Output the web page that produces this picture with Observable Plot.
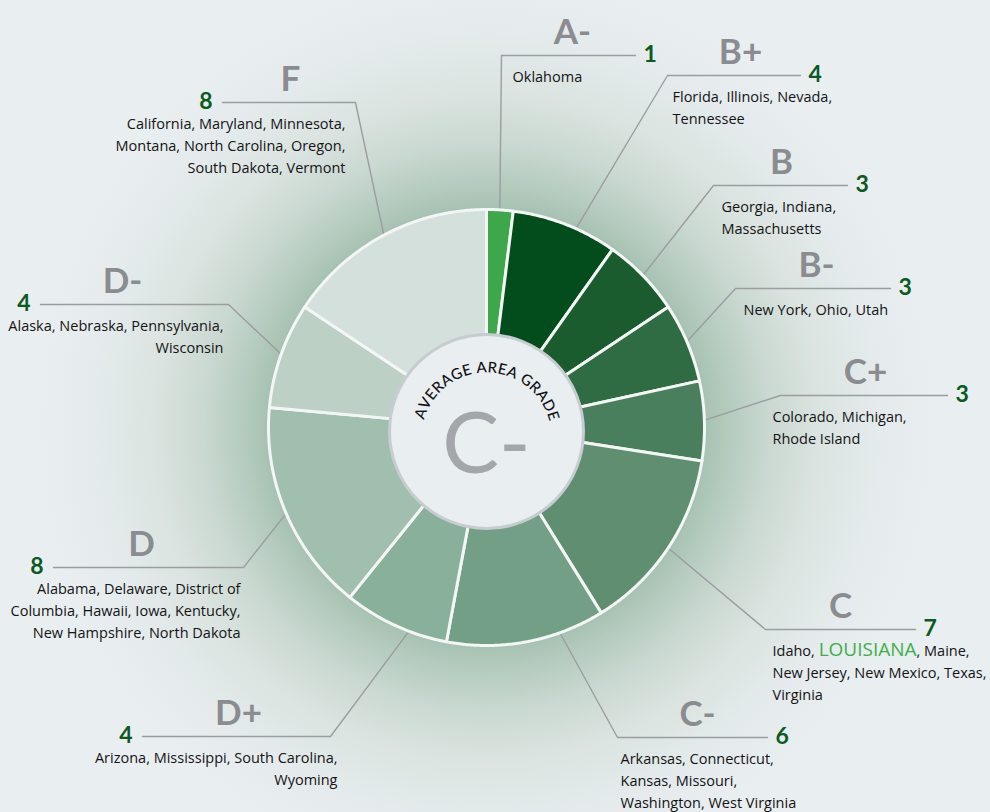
<!DOCTYPE html>
<html><head><meta charset="utf-8">
<script src="https://cdn.jsdelivr.net/npm/d3@7"></script>
<script src="https://cdn.jsdelivr.net/npm/@observablehq/plot@0.6"></script>
<style>
html,body{margin:0;padding:0;background:#e9eef0;}
#chart{width:990px;height:812px;background:radial-gradient(circle at 486px 427px,#9cb9a8 0px,#a6c1b2 218px,#b3cabd 240px,#c9d8d0 282px,#dbe4e1 335px,#e5ebec 395px,#e9eef0 450px);}
svg{display:block;}
</style></head><body><div id="chart"></div>
<script>
// ---------- data ----------
const grades = ["A-","B+","B","B-","C+","C","C-","D+","D","D-","F"];
const counts = [1,4,3,3,3,7,6,4,8,4,8];
const stateLines = [
  ["Oklahoma"],
  ["Florida, Illinois, Nevada,","Tennessee"],
  ["Georgia, Indiana,","Massachusetts"],
  ["New York, Ohio, Utah"],
  ["Colorado, Michigan,","Rhode Island"],
  ["Idaho, LOUISIANA, Maine,","New Jersey, New Mexico, Texas,","Virginia"],
  ["Arkansas, Connecticut,","Kansas, Missouri,","Washington, West Virginia"],
  ["Arizona, Mississippi, South Carolina,","Wyoming"],
  ["Alabama, Delaware, District of","Columbia, Hawaii, Iowa, Kentucky,","New Hampshire, North Dakota"],
  ["Alaska, Nebraska, Pennsylvania,","Wisconsin"],
  ["California, Maryland, Minnesota,","Montana, North Carolina, Oregon,","South Dakota, Vermont"]
];
const averageGrade = "C-";
const centerTitle = "AVERAGE AREA GRADE";
const highlightState = "LOUISIANA";

// ---------- styles ----------
const sliceColors = ["#3ea64b","#024d1b","#1b5c2f","#2f6c44","#4a7f5d","#5f8f70","#739f86","#88b09b","#a1bfae","#bdd0c6","#d3e0db"];

// ---------- annotation layout (pixel space) ----------
const labelSide   = ["R","R","R","R","R","R","R","L","L","L","L"];
const elbowX      = [501,667,713,735,780,765,617,330,243,228,355];
const elbowY      = [55,75,185,288,395,629,737,736,567,304,102];
const lineEndX    = [635,800,847,890,947,915,767,142,53,40,222];
const statesX     = [512,672,721,743,772,772,620,337,240,223,345];
const letterX     = [572,740,781,816,865,840,697,238,141,122,290];
const leaderShift = [0,3,0,0,0,0,-9,-4,0,0,0];

const W = 990, H = 812, CX = 486, CY = 427, R_OUT = 218, R_IN = 88;

const rows = grades.map((g,i)=>({
  grade:g, count:counts[i], states:stateLines[i].join("\n"), color:sliceColors[i],
  side:labelSide[i], ex:elbowX[i], ey:elbowY[i], fx:lineEndX[i], sx:statesX[i], lx:letterX[i], shift:leaderShift[i]
}));

const arcs = d3.pie().value(d=>d.count).sort(null)(rows);
const rad = Math.PI/180;

const slicePts = arcs.flatMap(p=>{
  const a0=p.startAngle, a1=p.endAngle, n=Math.max(2,Math.ceil((a1-a0)/(0.5*rad)));
  const pts=[];
  for(let i=0;i<=n;i++){const a=a0+(a1-a0)*i/n; pts.push({grade:p.data.grade,color:p.data.color,x:CX+R_OUT*Math.sin(a),y:CY-R_OUT*Math.cos(a)});}
  for(let i=n;i>=0;i--){const a=a0+(a1-a0)*i/n; pts.push({grade:p.data.grade,color:p.data.color,x:CX+R_IN*Math.sin(a),y:CY-R_IN*Math.cos(a)});}
  return pts;
});

const leaderPts = arcs.flatMap(p=>{
  const d=p.data, a=(p.startAngle+p.endAngle)/2 + d.shift*rad, r=R_OUT-2;
  return [
    {grade:d.grade,x:CX+r*Math.sin(a),y:CY-r*Math.cos(a)},
    {grade:d.grade,x:d.ex,y:d.ey},
    {grade:d.grade,x:d.fx,y:d.ey}
  ];
});

// curved centre title: characters spread so first/last centres sit at about ±71°
const ctx = document.createElement("canvas").getContext("2d");
const titleFont = {size:15, weight:500, family:"Lato"};
ctx.font = `${titleFont.weight} ${titleFont.size}px ${titleFont.family}`;
const TR = 65, TCX = 486, TCY = 437, spanDeg = 142;
const chars = [...centerTitle];
const cw = chars.map(c=>ctx.measureText(c).width);
let centerDist = 0; for(let i=1;i<chars.length;i++) centerDist += (cw[i-1]+cw[i])/2;
const tracking = (spanDeg*rad*TR - centerDist)/(chars.length-1);
let pos = 0;
const titleChars = chars.map((c,i)=>{
  if(i>0) pos += (cw[i-1]+cw[i])/2 + tracking;
  const a = (pos/TR) - (spanDeg/2)*rad + 1*rad;
  return {c, x:TCX+TR*Math.sin(a), y:TCY-TR*Math.cos(a), rot:a/rad};
});

const right = rows.filter(d=>d.side==="R"), left = rows.filter(d=>d.side==="L");
const statesFont = "Open Sans", statesSize = 14.5;

const svg = Plot.plot({
  width:W, height:H, margin:0,
  x:{domain:[0,W], range:[0,W], axis:null},
  y:{domain:[0,H], range:[0,H], axis:null},
  color:{type:"identity"},
  style:{background:"transparent", overflow:"visible"},
  marks:[
    Plot.line(leaderPts,{x:"x",y:"y",z:"grade",stroke:"#9b9da0",strokeWidth:1.4}),
    Plot.line(slicePts,{x:"x",y:"y",z:"grade",fill:"color",stroke:"#f4f6f6",strokeWidth:3,strokeLinejoin:"round",curve:"linear-closed"}),
    Plot.dot([{x:CX,y:431}],{x:"x",y:"y",r:97,fill:"#e9eef1",stroke:"#c7ccd0",strokeWidth:3}),
    Plot.text(titleChars,{x:"x",y:"y",text:"c",rotate:"rot",textAnchor:"middle",lineAnchor:"bottom",fontSize:titleFont.size,fontWeight:titleFont.weight,fontFamily:titleFont.family,fill:"#111"}),
    Plot.text([{t:averageGrade,x:CX,y:472}],{x:"x",y:"y",text:"t",textAnchor:"middle",lineAnchor:"bottom",fontSize:85,fontWeight:400,fontFamily:"Lato",fill:"#a3a6aa"}),
    // grade letters
    Plot.text(rows,{x:"lx",y:"ey",text:"grade",dy:-12,textAnchor:"middle",lineAnchor:"bottom",fontSize:35,fontWeight:700,fontFamily:"Lato",fill:"#8a8c8f"}),
    // counts
    Plot.text(right,{x:"fx",y:"ey",text:"count",dx:8,dy:-1,textAnchor:"start",lineAnchor:"middle",fontSize:23,fontWeight:700,fontFamily:"Lato",fill:"#0b5a1f"}),
    Plot.text(left,{x:"fx",y:"ey",text:"count",dx:-10,dy:-1,textAnchor:"end",lineAnchor:"middle",fontSize:23,fontWeight:700,fontFamily:"Lato",fill:"#0b5a1f"}),
    // state lists
    Plot.text(right,{x:"sx",y:"ey",text:"states",dy:11,textAnchor:"start",lineAnchor:"top",lineHeight:1.52,fontSize:statesSize,fontFamily:statesFont,fill:"#141414"}),
    Plot.text(left,{x:"sx",y:"ey",text:"states",dy:11,textAnchor:"end",lineAnchor:"top",lineHeight:1.52,fontSize:statesSize,fontFamily:statesFont,fill:"#141414"})
  ]
});

// highlight the featured state inside its line
svg.querySelectorAll("tspan, text").forEach(el=>{
  if (el.children.length===0 && el.textContent.includes(highlightState)) {
    const [pre, post] = el.textContent.split(highlightState);
    el.textContent = "";
    el.appendChild(document.createTextNode(pre));
    const t = document.createElementNS("http://www.w3.org/2000/svg","tspan");
    t.setAttribute("fill","#3fae4a"); t.setAttribute("font-size","19"); t.textContent = highlightState;
    el.appendChild(t);
    el.appendChild(document.createTextNode(post));
  }
});
document.getElementById("chart").appendChild(svg);
</script></body></html>
